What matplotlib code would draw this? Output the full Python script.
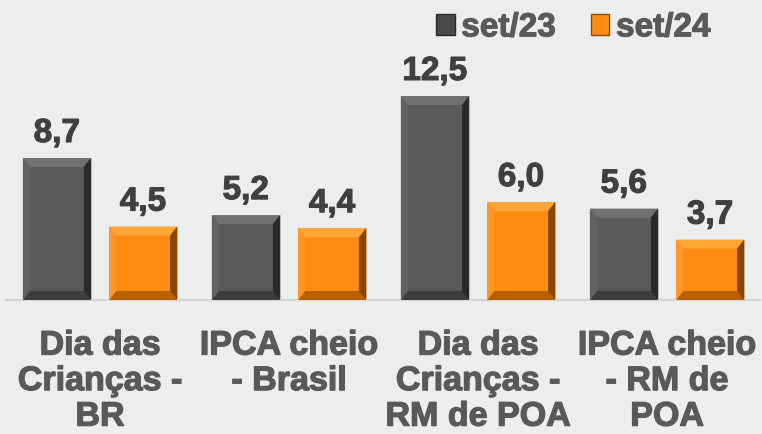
import matplotlib
matplotlib.use("Agg")
import matplotlib.pyplot as plt
from matplotlib.patches import Polygon, Patch
from matplotlib.transforms import IdentityTransform
import matplotlib.patheffects as pe
import numpy as np

categories = ["Dia das\nCrianças -\nBR", "IPCA cheio\n- Brasil", "Dia das\nCrianças -\nRM de POA", "IPCA cheio\n- RM de\nPOA"]
series_names = ["set/23", "set/24"]
set23 = [8.7, 5.2, 12.5, 5.6]
set24 = [4.5, 4.4, 6.0, 3.7]
value_labels_23 = ["8,7", "5,2", "12,5", "5,6"]
value_labels_24 = ["4,5", "4,4", "6,0", "3,7"]

BG = "#ECEDED"
plt.rcParams['font.family'] = ['Liberation Sans', 'DejaVu Sans']

fig = plt.figure(figsize=(7.62, 4.35), dpi=100, facecolor=BG)
ax = fig.add_axes([6/762, 1-301/435, 754/762, 301/435])
ax.set_facecolor(BG)
ax.patch.set_alpha(0)

x = np.arange(len(categories))
w = 0.36
off = 0.228
styles = {
    "dark": dict(face="#5a5a5a", top="#717171", left="#626262", right="#2a2a2a", bottom="#3d3d3d"),
    "orange": dict(face="#FF8C12", top="#FFA638", left="#FF9626", right="#8a4600", bottom="#b86000"),
}
b1 = ax.bar(x - off, set23, w, color=styles["dark"]["face"], edgecolor="#b8b8b8", linewidth=0.8, zorder=2)
b2 = ax.bar(x + off, set24, w, color=styles["orange"]["face"], edgecolor="#d8b898", linewidth=0.8, zorder=2)

ax.set_xlim(-0.497, 3.492)
ax.set_ylim(0, 301/16.32)

for s in ["top", "left", "right"]:
    ax.spines[s].set_visible(False)
ax.spines["bottom"].set_color("#d4d4d4")
ax.spines["bottom"].set_linewidth(1.5)
ax.set_yticks([])
ax.set_xticks(x)
stroke = [pe.withStroke(linewidth=0.9, foreground="#595959")]
ax.set_xticklabels(categories, fontsize=24.5, fontweight="bold", color="#595959", linespacing=1.19)
for t in ax.get_xticklabels():
    t.set_path_effects(stroke)
ax.tick_params(axis="x", length=0, pad=22)

fig.canvas.draw()

def bevel(bar, st, bw=9, sw=7):
    bb = bar.get_window_extent()
    x0, y0, x1, y1 = bb.x0, bb.y0, bb.x1, bb.y1
    polys = [
        ([(x0, y1), (x1, y1), (x1-sw, y1-bw), (x0+sw, y1-bw)], st["top"]),
        ([(x0, y0), (x1, y0), (x1-sw, y0+bw), (x0+sw, y0+bw)], st["bottom"]),
        ([(x0, y0), (x0+sw, y0+bw), (x0+sw, y1-bw), (x0, y1)], st["left"]),
        ([(x1, y0), (x1-sw, y0+bw), (x1-sw, y1-bw), (x1, y1)], st["right"]),
    ]
    for pts, c in polys:
        fig.add_artist(Polygon(pts, closed=True, facecolor=c, edgecolor="none",
                               transform=IdentityTransform(), zorder=3))

for b in b1:
    bevel(b, styles["dark"])
for b in b2:
    bevel(b, styles["orange"])

vstroke = [pe.withStroke(linewidth=0.8, foreground="#404040")]
for xs, vals, labs in ((x - off, set23, value_labels_23), (x + off, set24, value_labels_24)):
    for xi, v, lab in zip(xs, vals, labs):
        ax.annotate(lab, (xi, v), xytext=(0, 6.5), textcoords="offset points", ha="center", va="bottom",
                    fontsize=24, fontweight="bold", color="#404040", path_effects=vstroke)

handles = [Patch(facecolor="#4a4a4a", edgecolor="#2a2a2a"), Patch(facecolor="#FF8C12", edgecolor="#8a4a00")]
leg = fig.legend(handles, series_names, loc="upper right", bbox_to_anchor=(724/762, 1.0), ncol=2,
                 frameon=False, prop=dict(size=24, weight="bold"), handlelength=0.55, handleheight=0.6,
                 handletextpad=0.2, columnspacing=1.05, borderaxespad=0)
for t in leg.get_texts():
    t.set_color("#595959")
    t.set_path_effects([pe.withStroke(linewidth=0.8, foreground="#595959")])

fig.savefig("out.png", dpi=100, facecolor=BG)
